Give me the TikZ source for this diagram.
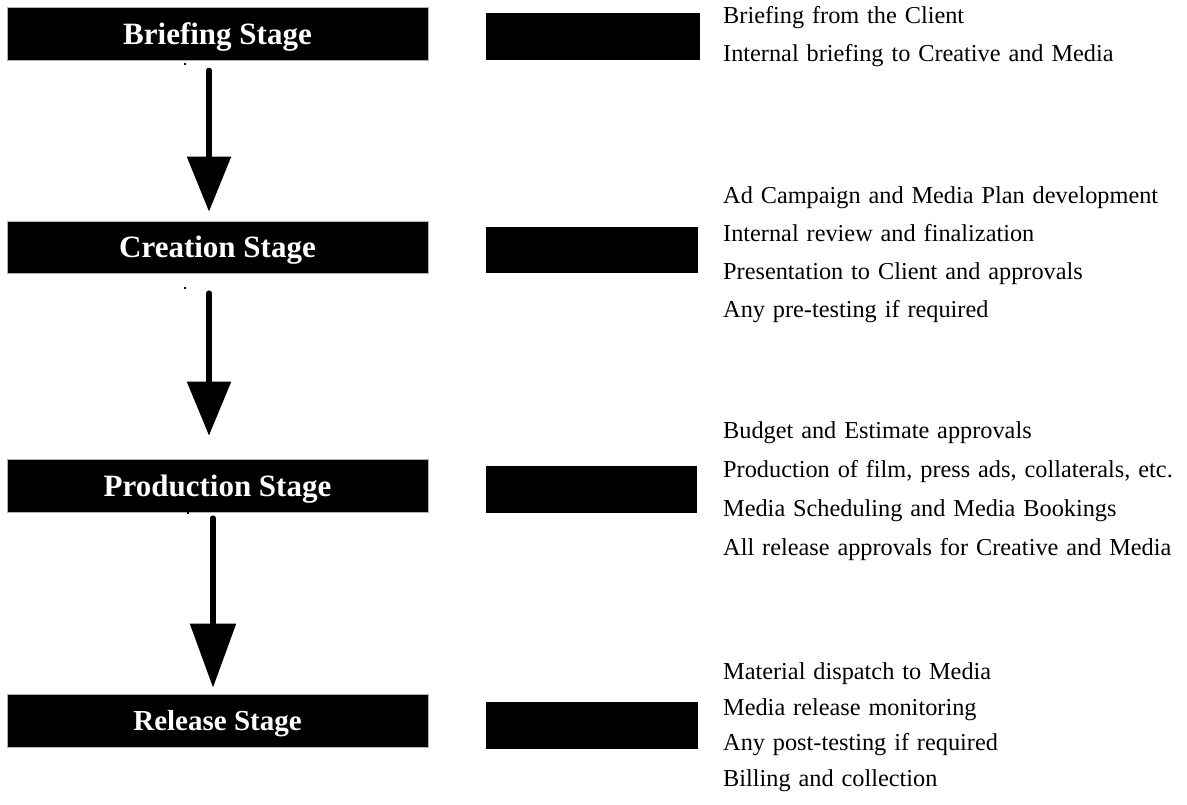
\documentclass[tikz,border=0pt]{standalone}
\usepackage{fontspec}
\setmainfont{Liberation Serif}
\newfontfamily\itemfont[WordSpace=1.3]{Liberation Serif}
\usetikzlibrary{arrows.meta}
\begin{document}
\begin{tikzpicture}[x=1pt,y=-1pt,
  stagebox/.style={fill=black, draw=gray!60, line width=0.8pt, text=white,
    font=\fontsize{31}{31}\selectfont\bfseries, minimum width=421pt,
    inner sep=0pt, text height=21pt, text depth=0pt},
  sidebox/.style={fill=black, draw=none, minimum height=47pt, inner sep=0pt},
  item/.style={anchor=base west, inner sep=0pt, font=\itemfont\fontsize{24.3}{25}\selectfont},
  flow/.style={line width=5.5pt, line cap=round},
  speck/.style={fill=black, draw=none, minimum size=1.6pt, inner sep=0pt}]
\useasboundingbox (0,0) rectangle (1187,804);

% stage boxes
\node[stagebox, minimum height=53pt] (b1) at (217.5,33.5) {Briefing Stage};
\node[stagebox, minimum height=52pt] (b2) at (217.5,247) {Creation Stage};
\node[stagebox, minimum height=53pt] (b3) at (217.5,485.5) {Production Stage};
\node[stagebox, minimum height=53pt, font=\fontsize{29}{29}\selectfont\bfseries,
      text height=19pt] (b4) at (217.5,720.5) {Release Stage};

% side boxes
\node[sidebox, minimum width=214pt] (s1) at (593,36.5) {};
\node[sidebox, minimum width=212pt, minimum height=46pt] (s2) at (592,250) {};
\node[sidebox, minimum width=211pt] (s3) at (591.5,489.5) {};
\node[sidebox, minimum width=212pt] (s4) at (592,725.5) {};

% small specks below the boxes
\node[speck] (d1) at (185,64) {};
\node[speck] (d2) at (185,288) {};
\node[speck] (d3) at (188,513) {};

% arrows
\coordinate (ax1) at (209,0);
\coordinate (ax3) at (213,0);
\draw[flow, shorten <=10pt, shorten >=9pt, -{Triangle[width=43pt,length=55pt]}]
  (b1.south -| ax1) -- (b2.north -| ax1);
\draw[flow, shorten <=19.75pt, shorten >=23pt, -{Triangle[width=43pt,length=54pt]}]
  (b2.south -| ax1) -- (b3.north -| ax1);
\draw[flow, shorten <=5.75pt, shorten >=6pt, -{Triangle[width=45pt,length=64pt]}]
  (b3.south -| ax3) -- (b4.north -| ax3);

% texts
\node[item] (t11) at (723,23.5) {Briefing from the Client};
\node[item] (t12) at (723,61) {Internal briefing to Creative and Media};

\node[item] (t21) at (723,203.5) {Ad Campaign and Media Plan development};
\node[item] (t22) at (723,241.5) {Internal review and finalization};
\node[item] (t23) at (723,279.5) {Presentation to Client and approvals};
\node[item] (t24) at (723,317.5) {Any pre-testing if required};

\node[item] (t31) at (723,438.5) {Budget and Estimate approvals};
\node[item] (t32) at (723,477.5) {Production of film, press ads, collaterals, etc.};
\node[item] (t33) at (723,516.5) {Media Scheduling and Media Bookings};
\node[item] (t34) at (723,555.5) {All release approvals for Creative and Media};

\node[item] (t41) at (723,679.5) {Material dispatch to Media};
\node[item] (t42) at (723,715) {Media release monitoring};
\node[item] (t43) at (723,750.5) {Any post-testing if required};
\node[item] (t44) at (723,786) {Billing and collection};
\end{tikzpicture}
\end{document}
